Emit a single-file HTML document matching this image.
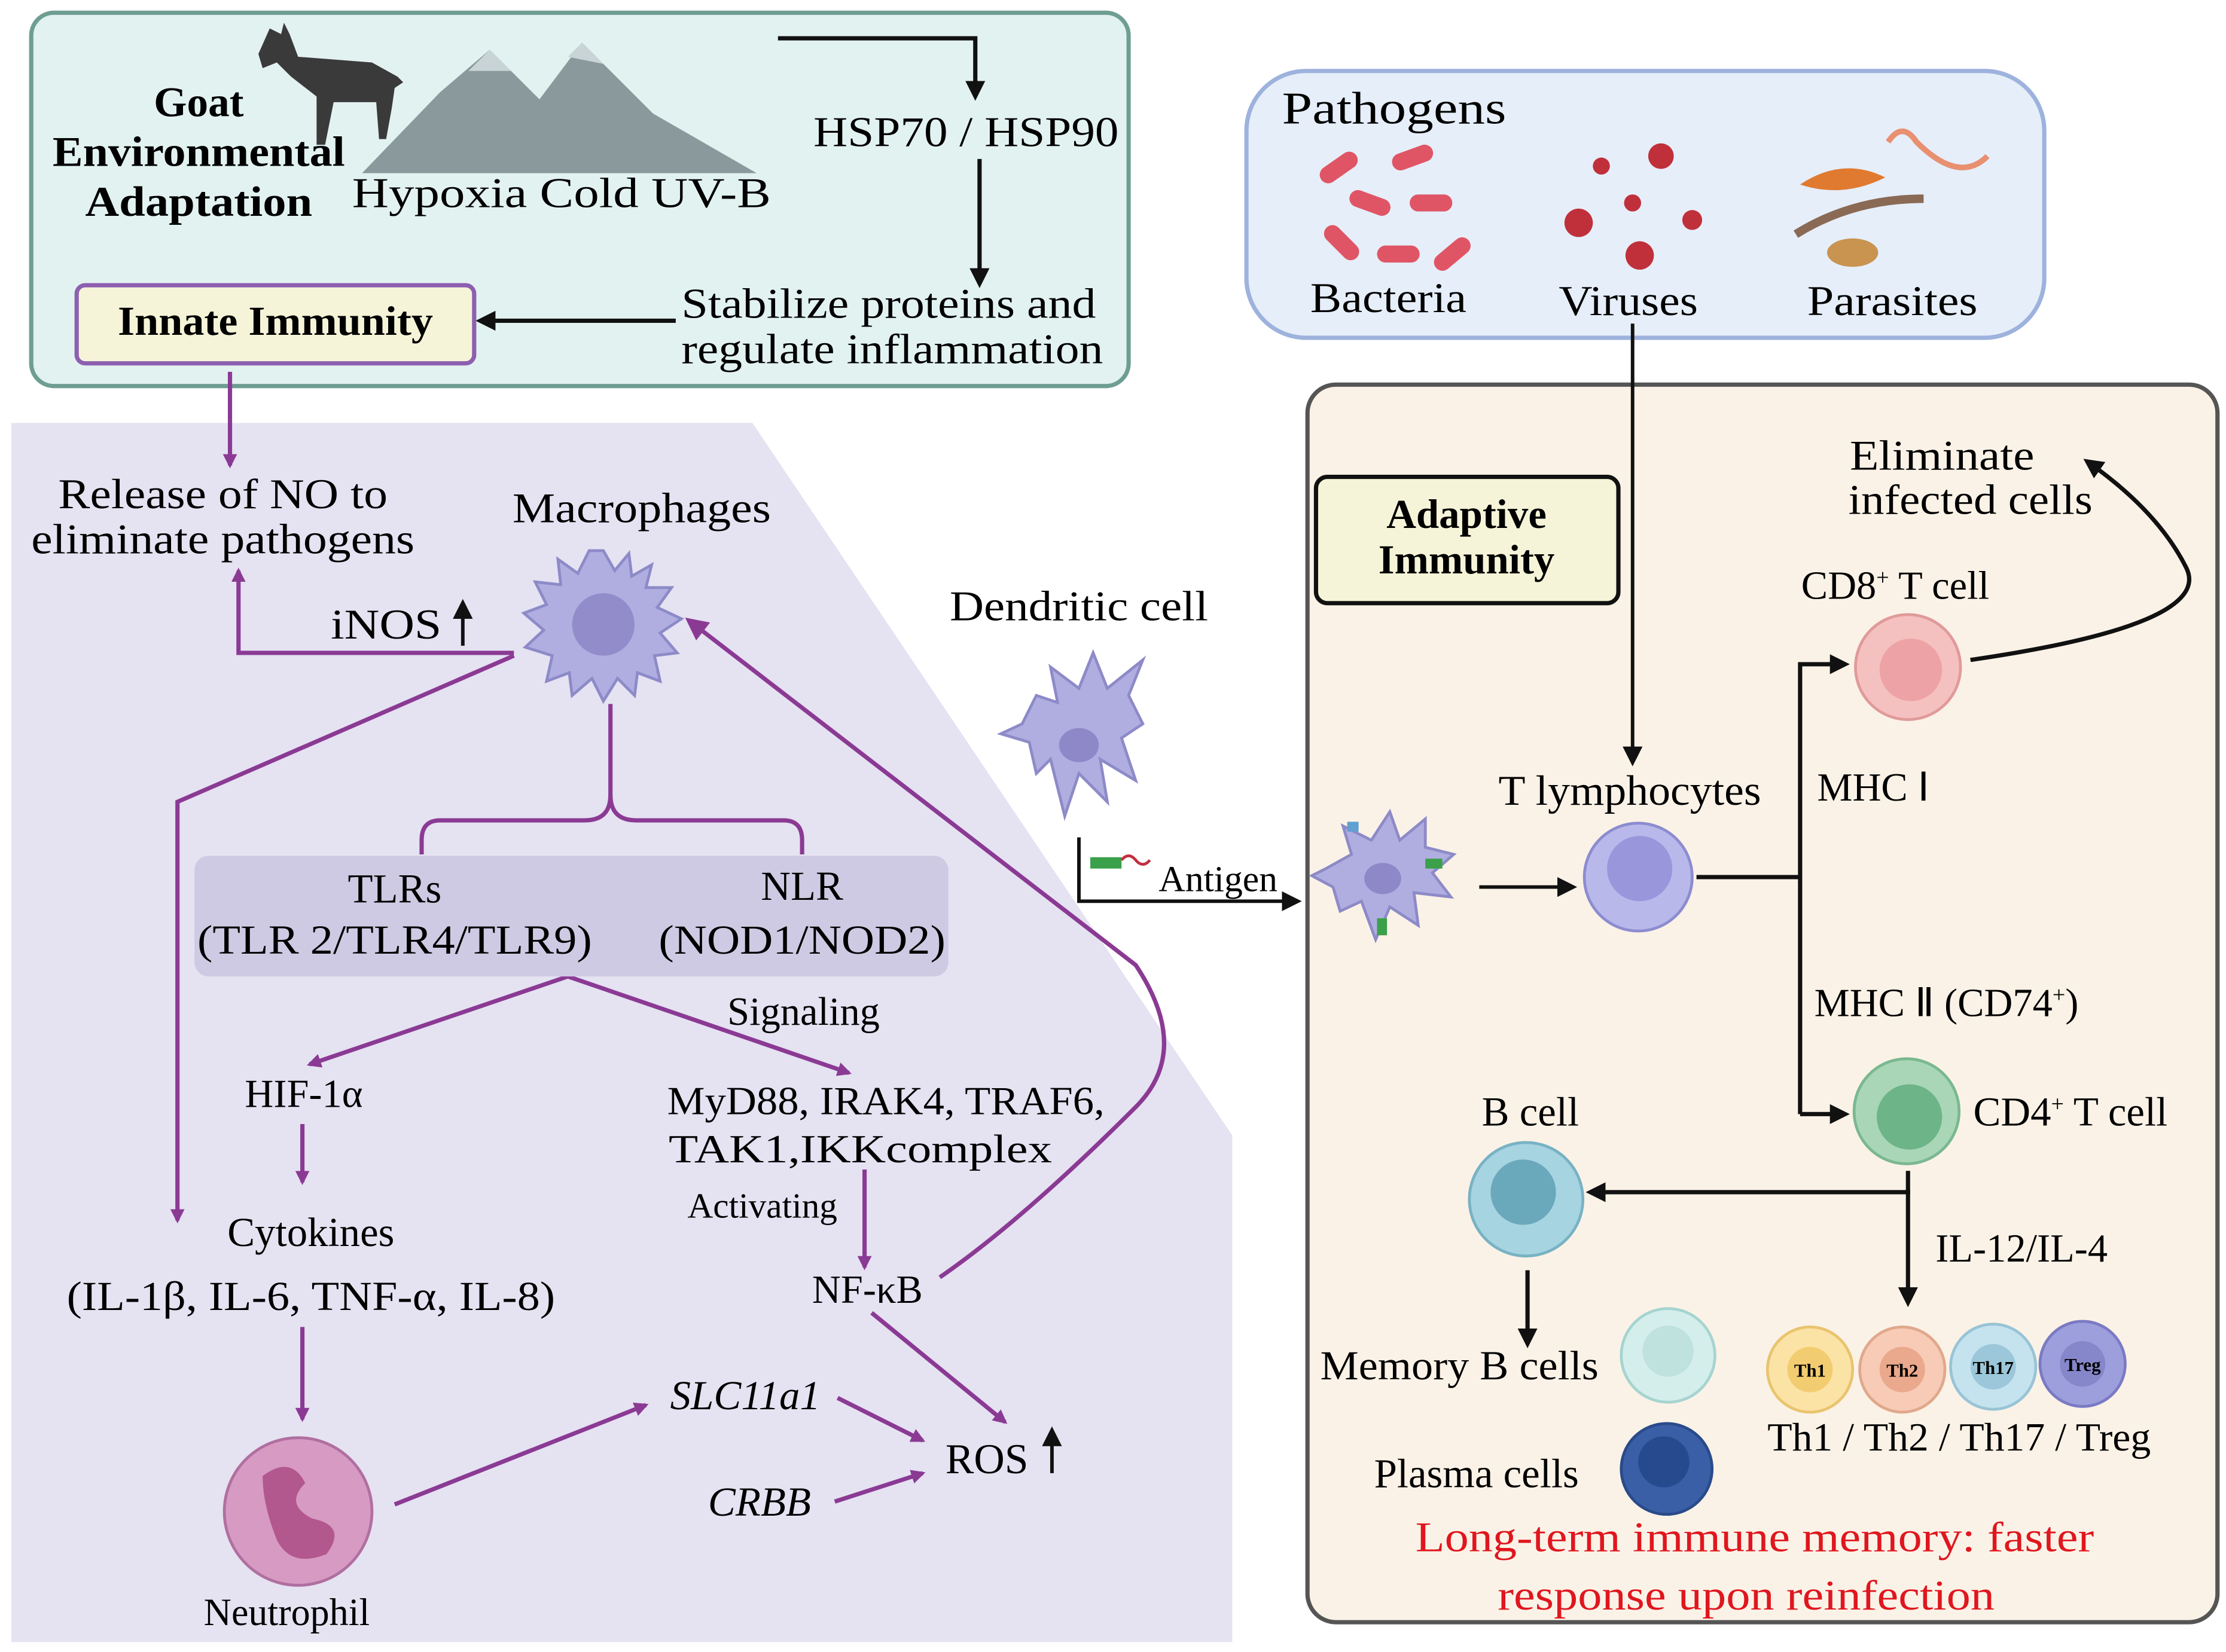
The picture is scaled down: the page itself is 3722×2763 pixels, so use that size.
<!DOCTYPE html>
<html><head><meta charset="utf-8"><style>html,body{margin:0;padding:0;background:#fff}svg{display:block}</style></head><body>
<svg width="3722" height="2763" viewBox="0 0 1568 1164" xmlns="http://www.w3.org/2000/svg" font-family="'Liberation Serif', serif">
<defs>
<marker id="ap" markerWidth="10" markerHeight="10" refX="8" refY="5" orient="auto" markerUnits="userSpaceOnUse"><path d="M0,0 L10,5 L0,10 z" fill="#8b3a94"/></marker>
<marker id="ak" markerWidth="14" markerHeight="14" refX="11" refY="7" orient="auto" markerUnits="userSpaceOnUse"><path d="M0,0 L14,7 L0,14 z" fill="#111"/></marker>
<marker id="apb" markerWidth="16" markerHeight="16" refX="13" refY="8" orient="auto" markerUnits="userSpaceOnUse"><path d="M0,0 L16,8 L0,16 z" fill="#8b3a94"/></marker>
</defs>
<rect x="22" y="9" width="773" height="263" rx="16" fill="#e2f2f0" stroke="#6e9e92" stroke-width="3"/>
<path d="M8,298 L530,298 L868,800 L868,1157 L8,1157 z" fill="#e5e2f2"/>
<rect x="878" y="50" width="562" height="188" rx="42" fill="#e6eef9" stroke="#9db2dd" stroke-width="3"/>
<rect x="921" y="271" width="641" height="872" rx="20" fill="#fbf2e7" stroke="#555" stroke-width="3"/>

<path d="M255,122 L310,65 L345,35 L380,70 L410,30 L460,80 L533,122 z" fill="#8a9a9c"/>
<path d="M330,50 L345,35 L360,50 z M400,40 L410,30 L425,45 z" fill="#c8d4d6"/>
<path d="M182,38 l8,-18 8,4 2,-8 4,8 6,16 52,4 18,10 4,4 -6,4 -2,14 -4,22 -5,0 -2,-26 -30,0 -6,30 -6,0 0,-34 -18,-14 -10,-10 -10,4z" fill="#3a3a3a"/>
<g lengthAdjust="spacingAndGlyphs">
<text x="140" y="82" font-size="30" font-weight="bold" text-anchor="middle">Goat</text>
<text x="140" y="117" font-size="30" font-weight="bold" text-anchor="middle" textLength="206" lengthAdjust="spacingAndGlyphs">Environmental</text>
<text x="140" y="152" font-size="30" font-weight="bold" text-anchor="middle" textLength="160" lengthAdjust="spacingAndGlyphs">Adaptation</text>
<text x="248" y="146" font-size="30" textLength="295" lengthAdjust="spacingAndGlyphs">Hypoxia  Cold  UV-B</text>
<text x="573" y="103" font-size="30" textLength="215" lengthAdjust="spacingAndGlyphs">HSP70 / HSP90</text>
<text x="480" y="224" font-size="30" textLength="292" lengthAdjust="spacingAndGlyphs">Stabilize proteins and</text>
<text x="480" y="256" font-size="30" textLength="297" lengthAdjust="spacingAndGlyphs">regulate inflammation</text>
</g>
<path d="M548,27 L687,27 L687,68" fill="none" stroke="#111" stroke-width="3" marker-end="url(#ak)"/>
<path d="M690,112 L690,200" fill="none" stroke="#111" stroke-width="3" marker-end="url(#ak)"/>
<path d="M476,226 L338,226" fill="none" stroke="#111" stroke-width="3" marker-end="url(#ak)"/>
<rect x="54" y="201" width="280" height="55" rx="6" fill="#f6f4d8" stroke="#8d5fb0" stroke-width="3"/>
<text x="194" y="236" font-size="29" font-weight="bold" text-anchor="middle" textLength="222" lengthAdjust="spacingAndGlyphs">Innate Immunity</text>

<g stroke="#8b3a94" stroke-width="3" fill="none">
<path d="M162,262 L162,328" marker-end="url(#ap)"/>
<path d="M362,460 L168,460 L168,402" marker-end="url(#ap)"/>
<path d="M362,462 L125,565 L125,860" marker-end="url(#ap)"/>
<path d="M430,496 L430,560 Q430,578 412,578 L310,578 Q297,578 297,592 L297,602"/>
<path d="M430,560 Q430,578 448,578 L552,578 Q565,578 565,592 L565,602"/>
<path d="M662,900 Q720,860 800,780 Q840,740 800,680 L485,437" marker-end="url(#apb)"/>
<path d="M400,688 L218,750" marker-end="url(#ap)"/>
<path d="M400,688 L598,756" marker-end="url(#ap)"/>
<path d="M213,792 L213,833" marker-end="url(#ap)"/>
<path d="M609,824 L609,893" marker-end="url(#ap)"/>
<path d="M213,935 L213,1000" marker-end="url(#ap)"/>
<path d="M278,1060 L455,990" marker-end="url(#ap)"/>
<path d="M590,985 L650,1015" marker-end="url(#ap)"/>
<path d="M588,1058 L650,1038" marker-end="url(#ap)"/>
<path d="M614,925 L708,1002" marker-end="url(#ap)"/>
</g>
<text x="157" y="358" font-size="30" text-anchor="middle" textLength="232" lengthAdjust="spacingAndGlyphs">Release of NO to</text>
<text x="157" y="390" font-size="30" text-anchor="middle" textLength="270" lengthAdjust="spacingAndGlyphs">eliminate pathogens</text>
<text x="452" y="368" font-size="30" text-anchor="middle" textLength="182" lengthAdjust="spacingAndGlyphs">Macrophages</text>
<text x="233" y="450" font-size="30" textLength="78" lengthAdjust="spacingAndGlyphs">iNOS</text>
<path d="M326,455 L326,425" stroke="#111" stroke-width="2.5" marker-end="url(#ak)"/>
<g transform="translate(425,440)">
<path d="M0,-52 L8,-38 18,-50 20,-34 34,-42 30,-26 48,-26 38,-12 55,-4 40,6 52,20 36,22 40,40 24,34 22,50 10,38 0,54 -8,38 -22,50 -24,34 -40,40 -36,22 -55,16 -42,4 -56,-8 -40,-14 -48,-30 -30,-28 -32,-46 -18,-36 -10,-52 z" fill="#b0aee0" stroke="#8d8ac8" stroke-width="2"/>
<circle r="22" fill="#928ccb"/>
</g>
<rect x="137" y="603" width="531" height="85" rx="10" fill="#cfcae3"/>
<text x="278" y="636" font-size="29" text-anchor="middle">TLRs</text>
<text x="278" y="672" font-size="29" text-anchor="middle" textLength="278" lengthAdjust="spacingAndGlyphs">(TLR 2/TLR4/TLR9)</text>
<text x="565" y="634" font-size="29" text-anchor="middle">NLR</text>
<text x="565" y="672" font-size="29" text-anchor="middle" textLength="202" lengthAdjust="spacingAndGlyphs">(NOD1/NOD2)</text>
<text x="566" y="722" font-size="28" text-anchor="middle">Signaling</text>
<text x="214" y="780" font-size="28" text-anchor="middle">HIF-1α</text>
<text x="624" y="785" font-size="28" text-anchor="middle" textLength="308" lengthAdjust="spacingAndGlyphs">MyD88, IRAK4, TRAF6,</text>
<text x="606" y="819" font-size="28" text-anchor="middle" textLength="270" lengthAdjust="spacingAndGlyphs">TAK1,IKKcomplex</text>
<text x="537" y="858" font-size="25" text-anchor="middle">Activating</text>
<text x="611" y="918" font-size="28" text-anchor="middle">NF-κB</text>
<text x="219" y="878" font-size="29" text-anchor="middle">Cytokines</text>
<text x="219" y="923" font-size="29" text-anchor="middle" textLength="344" lengthAdjust="spacingAndGlyphs">(IL-1β, IL-6, TNF-α, IL-8)</text>
<text x="525" y="993" font-size="29" font-style="italic" text-anchor="middle">SLC11a1</text>
<text x="535" y="1068" font-size="29" font-style="italic" text-anchor="middle">CRBB</text>
<text x="666" y="1038" font-size="30">ROS</text>
<path d="M741,1038 L741,1008" stroke="#111" stroke-width="2.5" marker-end="url(#ak)"/>
<circle cx="210" cy="1065" r="52" fill="#d79ac2" stroke="#b06fa0" stroke-width="2"/>
<path d="M185,1040 q20,-15 30,5 q-15,15 5,25 q25,5 10,25 q-25,10 -35,-10 q-10,-25 -10,-45z" fill="#b3578f"/>
<text x="202" y="1145" font-size="27" text-anchor="middle">Neutrophil</text>

<text x="982" y="87" font-size="32" text-anchor="middle" textLength="158" lengthAdjust="spacingAndGlyphs">Pathogens</text>
<g fill="#e05565">
<rect x="928" y="112" width="30" height="12" rx="6" transform="rotate(-35 943 118)"/>
<rect x="980" y="105" width="30" height="12" rx="6" transform="rotate(-20 995 111)"/>
<rect x="950" y="137" width="30" height="12" rx="6" transform="rotate(20 965 143)"/>
<rect x="993" y="137" width="30" height="12" rx="6"/>
<rect x="930" y="165" width="30" height="12" rx="6" transform="rotate(45 945 171)"/>
<rect x="970" y="173" width="30" height="12" rx="6"/>
<rect x="1008" y="173" width="30" height="12" rx="6" transform="rotate(-40 1023 179)"/>
</g>
<g fill="#c0303a">
<circle cx="1170" cy="110" r="9"/><circle cx="1128" cy="117" r="6"/><circle cx="1150" cy="143" r="6"/><circle cx="1112" cy="157" r="10"/><circle cx="1192" cy="155" r="7"/><circle cx="1155" cy="180" r="10"/>
</g>
<path d="M1268,130 q30,-20 60,-5 q-30,15 -60,5z" fill="#e07a30"/>
<path d="M1330,100 q10,-15 20,0 q30,30 50,10" fill="none" stroke="#e89070" stroke-width="4"/>
<path d="M1265,165 q40,-25 90,-25" fill="none" stroke="#8a6a55" stroke-width="6"/>
<ellipse cx="1305" cy="178" rx="18" ry="10" fill="#c89450"/>
<text x="978" y="220" font-size="30" text-anchor="middle" textLength="110" lengthAdjust="spacingAndGlyphs">Bacteria</text>
<text x="1147" y="222" font-size="30" text-anchor="middle" textLength="98" lengthAdjust="spacingAndGlyphs">Viruses</text>
<text x="1333" y="222" font-size="30" text-anchor="middle" textLength="120" lengthAdjust="spacingAndGlyphs">Parasites</text>
<path d="M1150,228 L1150,537" stroke="#111" stroke-width="2.5" marker-end="url(#ak)"/>

<rect x="927" y="336" width="213" height="89" rx="8" fill="#f6f4d8" stroke="#111" stroke-width="3"/>
<text x="1033" y="372" font-size="29" font-weight="bold" text-anchor="middle">Adaptive</text>
<text x="1033" y="404" font-size="29" font-weight="bold" text-anchor="middle">Immunity</text>
<text x="1368" y="331" font-size="30" text-anchor="middle" textLength="130" lengthAdjust="spacingAndGlyphs">Eliminate</text>
<text x="1388" y="362" font-size="30" text-anchor="middle" textLength="172" lengthAdjust="spacingAndGlyphs">infected cells</text>
<path d="M1388,465 Q1560,440 1540,400 Q1520,360 1470,325" fill="none" stroke="#111" stroke-width="3" marker-end="url(#ak)"/>
<text x="1335" y="422" font-size="28" text-anchor="middle">CD8<tspan font-size="16" dy="-10">+</tspan><tspan dy="10"> T cell</tspan></text>
<circle cx="1344" cy="470" r="37" fill="#f5c0c0" stroke="#e09a9a" stroke-width="2"/><circle cx="1346" cy="472" r="22" fill="#eda3a5"/>
<text x="760" y="437" font-size="30" text-anchor="middle" textLength="182" lengthAdjust="spacingAndGlyphs">Dendritic cell</text>
<g transform="translate(760,515)">
<path d="M-40,-5 L-55,2 -35,8 -30,30 -20,20 -10,60 0,30 20,50 15,20 40,35 30,5 45,-5 35,-25 45,-50 20,-30 10,-55 0,-30 -20,-45 -15,-20 -30,-25z" fill="#b0aee0" stroke="#8d8ac8" stroke-width="2"/>
<ellipse cx="0" cy="10" rx="14" ry="12" fill="#8e88c8"/>
</g>
<path d="M760,590 L760,635 L914,635" fill="none" stroke="#111" stroke-width="2.5" marker-end="url(#ak)"/>
<rect x="768" y="604" width="22" height="8" fill="#3aa04a"/><path d="M790,606 q5,-6 10,0 q5,6 10,0" stroke="#c03040" stroke-width="2" fill="none"/>
<text x="858" y="628" font-size="26" text-anchor="middle">Antigen</text>
<g transform="translate(974,617)">
<path d="M-40,-5 L-50,0 -35,8 -30,25 -15,18 -5,45 5,22 25,35 22,12 48,15 35,-2 50,-15 30,-20 30,-40 12,-25 5,-45 -8,-25 -28,-35 -22,-15z" fill="#b0aee0" stroke="#8d8ac8" stroke-width="2"/>
<ellipse cx="0" cy="2" rx="13" ry="11" fill="#8e88c8"/>
<rect x="30" y="-12" width="12" height="7" fill="#3aa04a"/><rect x="-4" y="30" width="7" height="12" fill="#3aa04a"/><rect x="-25" y="-38" width="8" height="7" fill="#60a0d0"/>
</g>
<path d="M1042,625 L1108,625" stroke="#111" stroke-width="2.5" marker-end="url(#ak)"/>
<text x="1148" y="567" font-size="30" text-anchor="middle" textLength="185" lengthAdjust="spacingAndGlyphs">T lymphocytes</text>
<circle cx="1154" cy="618" r="38" fill="#b8b8ea" stroke="#8c8cd0" stroke-width="2"/><circle cx="1155" cy="612" r="23" fill="#9a96dc"/>
<g stroke="#111" stroke-width="3" fill="none">
<path d="M1195,618 L1268,618"/>
<path d="M1268,785 L1268,468 L1300,468" marker-end="url(#ak)"/>
<path d="M1268,785 L1300,785" marker-end="url(#ak)"/>
<path d="M1344,825 L1344,840 L1120,840" marker-end="url(#ak)"/>
<path d="M1344,838 L1344,918" marker-end="url(#ak)"/>
<path d="M1076,895 L1076,947" marker-end="url(#ak)"/>
</g>
<text x="1280" y="564" font-size="28">MHC Ⅰ</text>
<text x="1278" y="716" font-size="28">MHC Ⅱ (CD74<tspan font-size="16" dy="-10">+</tspan><tspan dy="10">)</tspan></text>
<circle cx="1343" cy="783" r="37" fill="#a8d6b6" stroke="#7ab890" stroke-width="2"/><circle cx="1345" cy="787" r="23" fill="#6db488"/>
<text x="1390" y="793" font-size="29">CD4<tspan font-size="16" dy="-10">+</tspan><tspan dy="10"> T cell</tspan></text>
<text x="1078" y="793" font-size="29" text-anchor="middle">B cell</text>
<circle cx="1075" cy="845" r="40" fill="#a6d4e0" stroke="#78b2c4" stroke-width="2"/><circle cx="1073" cy="840" r="23" fill="#6aa8bc"/>
<text x="1424" y="889" font-size="28" text-anchor="middle">IL-12/IL-4</text>
<text x="1028" y="972" font-size="29" text-anchor="middle" textLength="196" lengthAdjust="spacingAndGlyphs">Memory B cells</text>
<circle cx="1175" cy="955" r="33" fill="#d4eeec" stroke="#a6d4d0" stroke-width="2"/><circle cx="1175" cy="952" r="18" fill="#bfe2de"/>
<text x="1040" y="1048" font-size="29" text-anchor="middle">Plasma cells</text>
<circle cx="1174" cy="1035" r="32" fill="#3a5fa6" stroke="#2a4a8a" stroke-width="2"/><circle cx="1172" cy="1030" r="18" fill="#274a8e"/>
<circle cx="1275" cy="965" r="30" fill="#fbe3a6" stroke="#e9c46e" stroke-width="2"/><circle cx="1275" cy="965" r="16" fill="#f2cc70"/>
<circle cx="1340" cy="965" r="30" fill="#f7cbb6" stroke="#e0a88c" stroke-width="2"/><circle cx="1340" cy="965" r="16" fill="#eaa88c"/>
<circle cx="1404" cy="963" r="30" fill="#c5e3ee" stroke="#98c4d6" stroke-width="2"/><circle cx="1404" cy="963" r="16" fill="#9cc7da"/>
<circle cx="1467" cy="961" r="30" fill="#9d9edc" stroke="#7a7ac4" stroke-width="2"/><circle cx="1467" cy="961" r="16" fill="#8686ca"/>
<g font-size="13" font-weight="bold" text-anchor="middle"><text x="1275" y="970">Th1</text><text x="1340" y="970">Th2</text><text x="1404" y="968">Th17</text><text x="1467" y="966">Treg</text></g>
<text x="1380" y="1022" font-size="28" text-anchor="middle" textLength="270" lengthAdjust="spacingAndGlyphs">Th1 / Th2 / Th17 / Treg</text>
<text x="1236" y="1093" font-size="30" fill="#e0161e" text-anchor="middle" textLength="478" lengthAdjust="spacingAndGlyphs">Long-term immune memory: faster</text>
<text x="1230" y="1134" font-size="30" fill="#e0161e" text-anchor="middle" textLength="350" lengthAdjust="spacingAndGlyphs">response upon reinfection</text>
</svg>
</body></html>
